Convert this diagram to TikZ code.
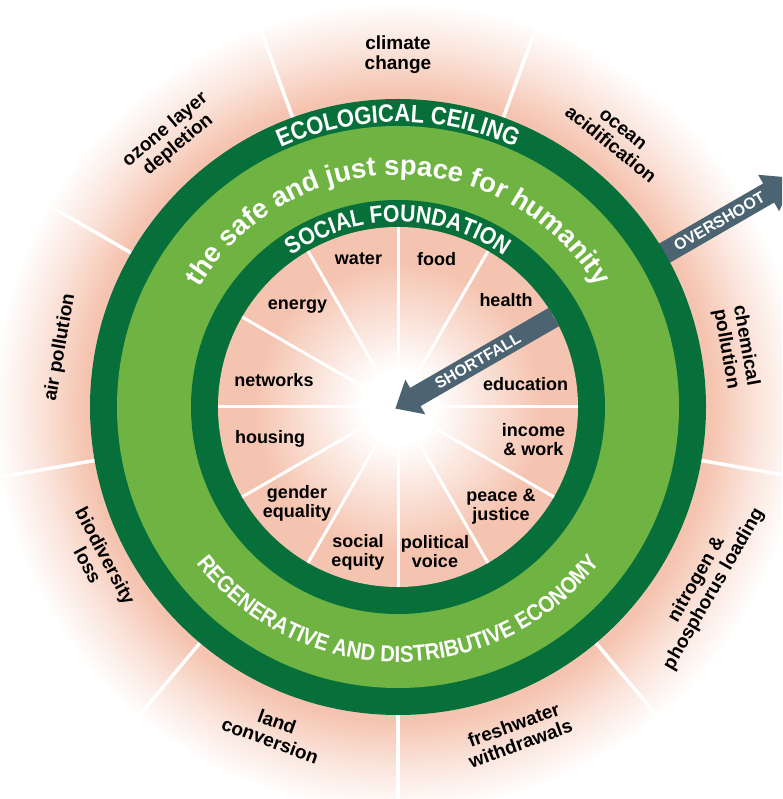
\documentclass[tikz,border=0pt]{standalone}
\usepackage{fontspec}
\setmainfont{Liberation Sans}
\newfontfamily\narrowsans[FakeStretch=0.88]{Liberation Sans}
\usetikzlibrary{decorations.text}
\definecolor{dkgreen}{RGB}{7,112,58}
\definecolor{ltgreen}{RGB}{111,180,66}
\definecolor{salmon}{RGB}{245,196,176}
\definecolor{slate}{RGB}{76,99,113}
\colorlet{salmonhalf}{salmon!45!white}
\pgfdeclareradialshading{outerglow}{\pgfpoint{0bp}{0bp}}{color(0bp)=(salmon); color(19.4bp)=(salmon); color(22.2bp)=(salmonhalf); color(25bp)=(white); color(50bp)=(white)}
\pgfdeclareradialshading{innerglow}{\pgfpoint{0bp}{0bp}}{color(0bp)=(white); color(5bp)=(white); color(20bp)=(salmon); color(25bp)=(salmon); color(50bp)=(salmon)}
\newcommand\ecofont{\narrowsans\bfseries\fontsize{25}{25}\selectfont}
\newcommand\socfont{\narrowsans\bfseries\fontsize{24}{24}\selectfont}
\newcommand\regfont{\narrowsans\bfseries\fontsize{23}{23}\selectfont}
\newcommand\safefont{\bfseries\fontsize{27.5}{27.5}\selectfont}
\tikzset{
  outerlbl/.style={font=\bfseries\fontsize{19}{20}\selectfont, align=center, text=black, inner sep=0pt},
  innerlbl/.style={font=\bfseries\fontsize{18}{19}\selectfont, align=center, text=black, inner sep=0pt},
  arrowlbl/.style={font=\bfseries\fontsize{16}{16}\selectfont, text=white, inner sep=0pt},
  outerray/.style={white, line width=3.5pt},
  innerray/.style={white, line width=3pt},
  arrowbody/.style={fill=slate}
}
\begin{document}
\begin{tikzpicture}[x=1pt, y=1pt]
\useasboundingbox (-398,-392) rectangle (384,407);
\clip (-398,-392) rectangle (384,407);
\fill[white] (-398,-392) rectangle (384,407);
\coordinate (C) at (0,0);
% outer pink glow and boundary rays
\shade[shading=outerglow] (C) circle (405);
\foreach \a in {30,70,...,350} \draw[outerray] (\a:300) -- (\a:415);
% overshoot arrow
\fill[arrowbody, rotate=30] (300,11) -- (428,11) -- (428,21) -- (458,0) -- (428,-21) -- (428,-11) -- (300,-11) -- cycle;
% rings
\fill[dkgreen] (C) circle (308);
\fill[ltgreen] (C) circle (281);
\fill[dkgreen] (C) circle (207);
\shade[shading=innerglow] (C) circle (180);
\foreach \a in {0,30,...,330} \draw[innerray] (C) -- (\a:180);
% shortfall arrow
\fill[arrowbody, rotate=30] (-3,0) -- (20,20) -- (20,10.5) -- (180,10.5) -- (180,-10.5) -- (20,-10.5) -- (20,-20) -- cycle;
\node[arrowlbl, rotate=30] (shortfall) at (30:92) {SHORTFALL};
\node[arrowlbl, rotate=30] (overshoot) at (30:371) {OVERSHOOT};
% ring texts
\path[decorate, decoration={text along path, text color=white, text align=center, text={|\ecofont|ECOLOGICAL CEILING}}] (160:285) arc[start angle=160, end angle=20, radius=285];
\path[decorate, decoration={text along path, text color=white, text align=center, text={|\safefont|the safe and just space for humanity}}] (175:232) arc[start angle=175, end angle=5, radius=232];
\path[decorate, decoration={text along path, text color=white, text align=center, text={|\socfont|SOCIAL FOUNDATION}}] (160:185) arc[start angle=160, end angle=20, radius=185];
\path[decorate, decoration={text along path, text color=white, text align=center, text={|\regfont|REGENERATIVE AND DISTRIBUTIVE ECONOMY}}] (190:255) arc[start angle=190, end angle=350, radius=255];
% ecological ceiling labels
\node[outerlbl] (climate) at (90:352) {climate\\change};
\node[outerlbl, rotate=-39] (ocean) at (51:347) {ocean\\acidification};
\node[outerlbl, rotate=-80] (chemical) at (10:343) {chemical\\pollution};
\node[outerlbl, rotate=60] (nitrogen) at (-30:355) {nitrogen \&\\phosphorus loading};
\node[outerlbl, rotate=20] (freshwater) at (-70:348) {freshwater\\withdrawals};
\node[outerlbl, rotate=-20] (land) at (-111:347) {land\\conversion};
\node[outerlbl, rotate=-62] (biodiv) at (-153:338) {biodiversity\\loss};
\node[outerlbl, rotate=80] (air) at (170:343) {air pollution};
\node[outerlbl, rotate=40] (ozone) at (130:352) {ozone layer\\depletion};
% social foundation labels
\node[innerlbl] (water) at (-39.5,148) {water};
\node[innerlbl] (food) at (38.5,148) {food};
\node[innerlbl] (health) at (108,107) {health};
\node[innerlbl] (energy) at (-100.5,100) {energy};
\node[innerlbl] (networks) at (-124,27) {networks};
\node[innerlbl] (education) at (127.5,23) {education};
\node[innerlbl] (housing) at (-128,-32) {housing};
\node[innerlbl] (income) at (135.5,-33) {income\\\& work};
\node[innerlbl] (gender) at (-101,-96) {gender\\equality};
\node[innerlbl] (peace) at (103,-100) {peace \&\\justice};
\node[innerlbl] (social) at (-40,-145) {social\\equity};
\node[innerlbl] (political) at (37,-145) {political\\voice};
\end{tikzpicture}
\end{document}
